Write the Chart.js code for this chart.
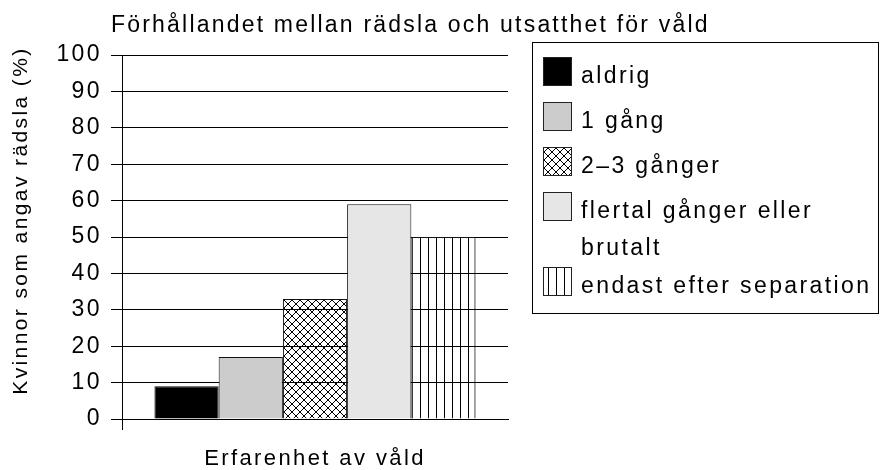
<!DOCTYPE html>
<html>
<head>
<meta charset="utf-8">
<title>Förhållandet mellan rädsla och utsatthet för våld</title>
<script src="https://cdn.jsdelivr.net/npm/chart.js@4.4.1/dist/chart.umd.min.js"></script>
<style>
  html, body { margin: 0; padding: 0; background: #fff; }
  #chart { display: block; }
</style>
</head>
<body>
<canvas id="chart" width="881" height="470"></canvas>
<script>
// values
const chartTitle = 'Förhållandet mellan rädsla och utsatthet för våld';
const categories = ['Erfarenhet av våld'];
const seriesNames = ['aldrig', '1 gång', '2–3 gånger', 'flertal gånger eller brutalt', 'endast efter separation'];
const seriesValues = [9, 17, 33, 59, 50];
const yTicks = [0, 10, 20, 30, 40, 50, 60, 70, 80, 90, 100];
const yTitle = 'Kvinnor som angav rädsla (%)';
const xTitle = 'Erfarenhet av våld';

const FONT = '"Liberation Sans", Arial, Helvetica, sans-serif';
const SPACING = '2.4px';   // the scan has wide letter tracking

Chart.defaults.font.family = FONT;
Chart.defaults.color = '#000';

const canvas = document.getElementById('chart');

// hatch fills (transparent background, grid shows through like the original)
function makePattern(kind) {
    const c = document.createElement('canvas');
    c.width = 8;
    c.height = 8;
    const g = c.getContext('2d');
    g.strokeStyle = '#000';
    g.lineWidth = 1;
    g.beginPath();
    if (kind === 'cross') {
        g.moveTo(-1, -1); g.lineTo(9, 9);
        g.moveTo(-1, 9); g.lineTo(9, -1);
    } else {
        g.moveTo(4.5, 0); g.lineTo(4.5, 8);
    }
    g.stroke();
    return canvas.getContext('2d').createPattern(c, 'repeat');
}

const fills = ['#000000', '#cccccc', makePattern('cross'), '#e6e6e6', makePattern('vertical')];

function wrapText(ctx, text, maxWidth) {
    const words = text.split(' ');
    const lines = [];
    let line = '';
    words.forEach(function (w) {
        const test = line ? line + ' ' + w : w;
        if (line && ctx.measureText(test).width > maxWidth) {
            lines.push(line);
            line = w;
        } else {
            line = test;
        }
    });
    if (line) lines.push(line);
    return lines;
}

// title + boxed legend on the right, and the letter tracking
const paperPlugin = {
    id: 'paper',
    beforeUpdate(chart) { chart.ctx.letterSpacing = SPACING; },
    beforeDraw(chart) { chart.ctx.letterSpacing = SPACING; },
    afterDraw(chart) {
        const ctx = chart.ctx;
        ctx.save();
        ctx.fillStyle = '#000';
        ctx.textAlign = 'left';
        ctx.textBaseline = 'alphabetic';
        ctx.letterSpacing = '2.2px';
        ctx.font = '23px ' + FONT;
        ctx.fillText(chartTitle, 111, 32);

        // legend box
        ctx.letterSpacing = SPACING;
        ctx.lineWidth = 1;
        ctx.strokeStyle = '#000';
        ctx.strokeRect(532.5, 42.5, 346, 271);

        let top = 57;
        chart.data.datasets.forEach(function (ds) {
            const lines = wrapText(ctx, ds.label, 300);
            ctx.fillStyle = '#fff';
            ctx.fillRect(543, top, 29, 29);
            ctx.fillStyle = ds.backgroundColor;
            ctx.fillRect(543, top, 29, 29);
            ctx.strokeStyle = '#222';
            ctx.strokeRect(543.5, top + 0.5, 28, 28);
            ctx.fillStyle = '#000';
            lines.forEach(function (ln, i) {
                ctx.fillText(ln, 581, top + 26 + i * 37);
            });
            top += 45 + (lines.length - 1) * 30;
        });
        ctx.restore();
    }
};

const chart = new Chart(canvas, {
    type: 'bar',
    data: {
        labels: categories,
        datasets: seriesNames.map(function (name, i) {
            return {
                label: name,
                data: [seriesValues[i]],
                backgroundColor: fills[i],
                borderColor: '#111',
                borderWidth: 1,
                barPercentage: 1,
                categoryPercentage: 0.832
            };
        })
    },
    options: {
        responsive: false,
        animation: false,
        layout: { padding: { top: 55, right: 373, bottom: 0, left: 0 } },
        plugins: {
            legend: { display: false },
            title: { display: false },
            tooltip: { enabled: false }
        },
        scales: {
            x: {
                ticks: { display: false },
                grid: {
                    drawOnChartArea: false,
                    tickLength: 11,
                    color: function (c) { return c.index === 0 ? '#000' : 'rgba(0,0,0,0)'; }
                },
                border: { color: '#000' },
                title: {
                    display: true,
                    text: xTitle,
                    font: { size: 22, lineHeight: 1 },
                    color: '#000',
                    padding: { top: 0, bottom: 0 }
                },
                afterFit(s) { s.height = 51; }
            },
            y: {
                min: 0,
                max: 100,
                afterBuildTicks(s) { s.ticks = yTicks.map(function (v) { return { value: v }; }); },
                ticks: { font: { size: 23 }, color: '#000', padding: 9 },
                grid: { color: '#000', tickLength: 11 },
                border: { color: '#000' },
                title: {
                    display: true,
                    text: '    ' + yTitle,
                    font: { size: 21 },
                    color: '#000',
                    padding: { top: 9, bottom: 0 }
                },
                afterFit(s) { s.width = 122; }
            }
        }
    },
    plugins: [paperPlugin]
});
</script>
</body>
</html>
